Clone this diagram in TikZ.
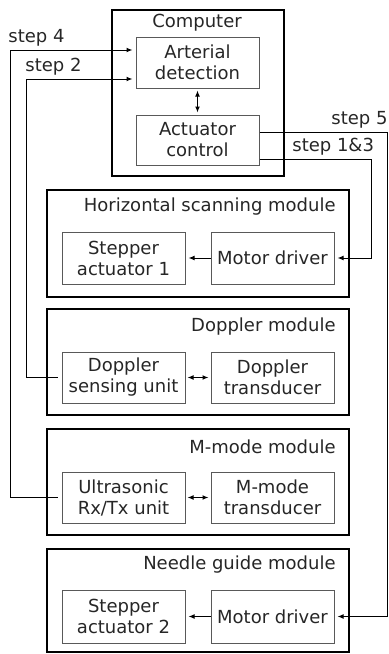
\documentclass[tikz,border=0pt]{standalone}
\usepackage{fontspec}
\setmainfont{DejaVu Sans}
\usetikzlibrary{arrows.meta}

\begin{document}
\begin{tikzpicture}[x=0.5pt,y=-0.5pt,
  every node/.style={inner sep=0pt,font=\fontsize{9}{10.5}\selectfont,text=black!85},
  module/.style={draw,line width=1.1pt,minimum width=151pt},
  unit/.style={draw=black!65,line width=0.5pt,minimum width=61.5pt,minimum height=25.5pt,align=center},
  title/.style={anchor=east},
  conn/.style={line width=0.5pt,shorten >=1.5pt,-{Latex[length=3pt,width=2.4pt]}},
  link/.style={line width=0.5pt,shorten <=1pt,shorten >=1pt,{Latex[length=3pt,width=2.4pt]}-{Latex[length=3pt,width=2.4pt]}}]
\useasboundingbox (0,0) rectangle (388,654);

\node[module,minimum width=86pt,minimum height=83pt] (comp) at (198,93) {};
\node (comptitle) at (197,23) {Computer};
\node[unit] (art) at (197.5,62.5) {Arterial\\detection};
\node[unit,minimum height=25pt] (act) at (197.5,140) {Actuator\\control};
\draw[link] (art.south) -- (act.north);

\node[module,minimum height=53.5pt] (hs) at (198,243.5) {};
\node[title] (hstitle) at (336,207) {Horizontal scanning module};
\node[unit,minimum height=26pt] (hstep) at (123.5,258) {Stepper\\actuator 1};
\node[unit,minimum height=26pt] (hmot) at (272.5,258) {Motor driver};
\draw[conn] (hmot.west) -- (hstep.east);

\node[module,minimum height=53pt] (dop) at (198,362) {};
\node[title] (doptitle) at (336,327) {Doppler module};
\node[unit] (dsens) at (123.5,377.5) {Doppler\\sensing unit};
\node[unit] (dtrans) at (272.5,377.5) {Doppler\\transducer};
\draw[link] (dsens.east) -- (dtrans.west);

\node[module,minimum height=53pt] (mm) at (198,482) {};
\node[title] (mmtitle) at (336,447) {M-mode module};
\node[unit] (ultra) at (123.5,497.5) {Ultrasonic\\Rx/Tx unit};
\node[unit] (mtrans) at (272.5,497.5) {M-mode\\transducer};
\draw[link] (ultra.east) -- (mtrans.west);

\node[module,minimum height=51.5pt] (ng) at (198,600.5) {};
\node[title] (ngtitle) at (336,565) {Needle guide module};
\node[unit,minimum height=26.5pt] (nstep) at (123.5,616.5) {Stepper\\actuator 2};
\node[unit,minimum height=26.5pt] (nmot) at (272.5,616.5) {Motor driver};
\draw[conn] (nmot.west) -- (nstep.east);

\node[anchor=west] (lab4) at (8,38) {step 4};
\node[anchor=west] (lab2) at (25,67) {step 2};
\node[anchor=east] (lab5) at (388,120) {step 5};
\node[anchor=west] (lab13) at (292,147) {step 1\&3};

\draw[conn,shorten <=2pt] (ultra.west) -| (10,50) -- (art.west |- 10,50);
\draw[conn,shorten <=2pt] (dsens.west) -| (26,79) -- (art.west |- 26,79);
\draw[conn] (act.east |- 0,132) -| (387,616.5) -- (nmot.east);
\draw[conn] (act.east |- 0,159) -| (371,258) -- (hmot.east);
\end{tikzpicture}
\end{document}
